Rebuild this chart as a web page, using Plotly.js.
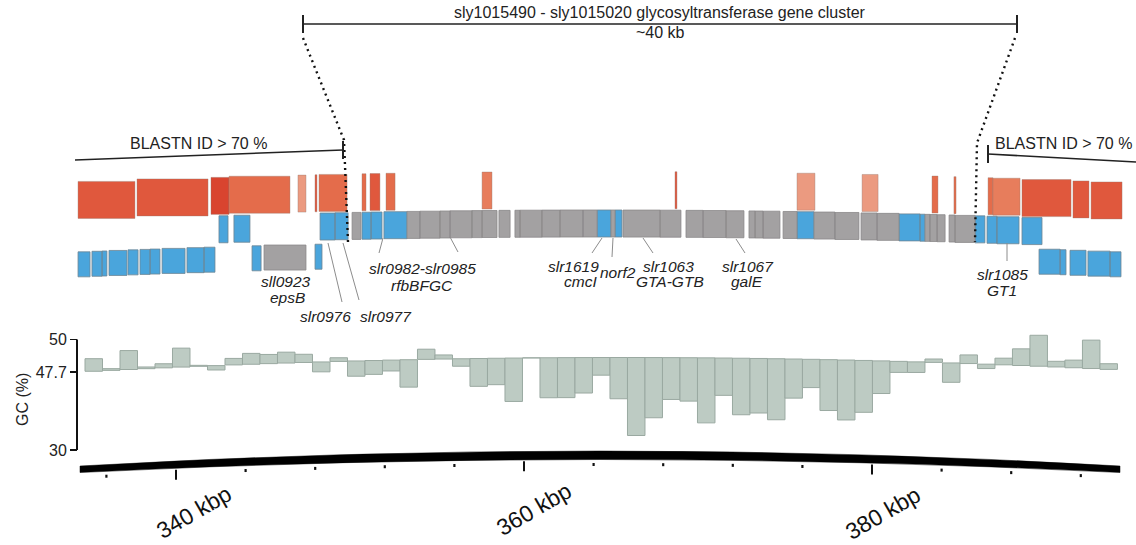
<!DOCTYPE html>
<html><head><meta charset="utf-8">
<script src="https://cdn.plot.ly/plotly-3.0.1.min.js"></script>
<style>html,body{margin:0;padding:0;background:#fff}#chart{width:1136px;height:545px}</style>
</head><body><div id="chart"></div>
<script>
// ================= DATA =================
// BLASTN hit track (identity class)
const blastStart = [334.37, 337.76, 342.01, 343.05, 347.01, 347.99, 348.22, 350.69, 351.15, 352.07, 357.59, 368.68, 375.69, 379.43, 383.45, 384.71, 386.67, 386.95, 388.62, 391.55, 392.59];
const blastEnd   = [337.64, 341.84, 343.05, 346.55, 347.47, 348.10, 349.83, 350.92, 351.72, 352.59, 358.16, 368.79, 376.72, 380.35, 383.79, 384.83, 386.95, 388.51, 391.44, 392.47, 394.37];
const blastClass = ['high','high','top','mid','low','high','mid','mid','high','mid','midlow','high','low','low','mid','mid','mid','midlow','high','high','high'];

// Gene track 1 (upper strand row): b = conserved (blue), g = cluster gene (grey)
const fwdStart = [342.47, 343.33, 348.28, 349.14, 350.12, 350.69, 351.21, 351.95, 353.28, 354.02, 355.17, 355.75, 357.01, 357.59, 358.56, 359.48, 359.77, 361.03, 362.07, 363.39, 364.20, 365.00, 365.23, 365.69, 367.82, 369.31, 370.29, 371.61, 372.93, 373.28, 373.74, 374.89, 375.69, 376.67, 377.87, 379.37, 380.29, 381.55, 382.76, 383.05, 383.33, 383.74, 384.43, 384.77, 385.92, 386.61, 387.18, 388.62];
const fwdEnd   = [342.99, 344.25, 349.14, 349.89, 350.63, 351.21, 351.84, 353.28, 354.02, 355.17, 355.75, 357.01, 357.59, 358.45, 359.20, 359.77, 361.03, 362.07, 363.39, 364.20, 365.00, 365.23, 365.63, 367.82, 369.02, 370.29, 371.61, 372.64, 373.28, 373.74, 374.71, 375.69, 376.67, 377.87, 379.25, 380.29, 381.55, 382.76, 383.05, 383.33, 383.74, 384.20, 384.77, 385.92, 386.49, 387.18, 388.45, 389.77];
const fwdType  = ['b','b','b','b','g','b','b','b','g','g','g','g','g','g','g','g','g','g','g','g','b','g','b','g','g','g','g','g','g','g','g','g','b','g','g','g','g','b','b','g','g','g','g','g','b','b','b','b'];

// Gene track 2 (lower strand row)
const revStart = [334.37, 335.17, 335.75, 336.15, 337.24, 337.93, 338.51, 339.20, 340.63, 341.61, 344.37, 345.06, 347.99, 389.60, 390.81, 391.38, 392.41, 393.68];
const revEnd   = [335.06, 335.75, 336.03, 337.18, 337.82, 338.51, 339.08, 340.52, 341.61, 342.24, 344.89, 347.47, 348.39, 390.81, 391.15, 392.30, 393.68, 394.31];
const revType  = ['b','b','b','b','b','b','b','b','b','b','b','g','b','b','b','b','b','b'];

// GC content (%) in consecutive windows
const gcWindowStart = 334.77;   // kbp
const gcWindowSize  = 1.0057;   // kbp
const gcPercent = [48.59, 47.82, 49.04, 47.82, 47.99, 49.04, 47.77, 47.39, 48.16, 48.47,
                   48.35, 48.47, 48.28, 47.00, 47.96, 46.62, 46.72, 46.93, 45.76, 48.42,
                   47.99, 47.17, 45.73, 45.83, 44.63, 47.70, 44.87, 44.87, 45.19, 46.45,
                   44.78, 42.18, 43.44, 44.74, 44.63, 43.10, 45.06, 43.70, 43.84, 43.38,
                   44.93, 45.70, 44.10, 43.46, 44.03, 45.39, 46.92, 46.95, 47.94, 46.33,
                   48.31, 47.39, 48.17, 48.88, 49.89, 48.10, 48.24, 49.71, 48.10];
const gcMean = 47.7;
const gcTickVals = [42.18, 47.7, 50];
const gcTickText = ['30', '47.7', '50'];

// genome coordinate axis
const majorTickKbp = [340, 360, 380];
const majorTickText = ['340 kbp', '360 kbp', '380 kbp'];
const minorTickKbp = [336, 344, 348, 352, 356, 364, 368, 372, 376, 384, 388, 392];

// ================= LAYOUT HELPERS =================
const W = 1136, H = 545;
const PXK = 17.4;                 // px per kbp
const X0 = 340 - 176 / PXK;       // kbp at left edge
const FONT = "'Liberation Sans', Arial, Helvetica, sans-serif";
const k2px = k => (k - X0) * PXK;
const px = x => x / W;
const py = y => 1 - y / H;
function lift(x, D, c, hw) { const t = (x - c) / hw; return D * Math.max(0, 1 - t * t); }

const blastColor = {top:'#d9442f', high:'#e0583d', mid:'#e46c4b', midlow:'#e77d5c', low:'#eb9a80'};
const typeColor = {b:'#4aa5dc', g:'#a3a1a2'};
const typeLine = {b:'#6f8593', g:'#8a8889'};

const rowA = [182.5, 219.5], rowB = [221, 248], rowC = [252, 277];

const traces = [];
function addRects(starts, ends, cats, row, colorMap, lineMap, lw) {
  const groups = {};
  starts.forEach((s, i) => {
    const e = ends[i], c = cats[i];
    const L = lift(k2px((s + e) / 2), 11, 600, 520);
    const t = row[0] - L, b = row[1] - L;
    (groups[c] = groups[c] || {x: [], y: []});
    groups[c].x.push(s, e, e, s, s, null);
    groups[c].y.push(t, t, b, b, t, null);
  });
  Object.keys(groups).forEach(c => {
    traces.push({type:'scatter', mode:'lines', x:groups[c].x, y:groups[c].y, xaxis:'x', yaxis:'y',
      fill:'toself', fillcolor:colorMap[c], line:{color:lineMap[c], width:lw}, hoverinfo:'skip'});
  });
}
const blastLine = {}; Object.keys(blastColor).forEach(k => blastLine[k] = 'rgba(150,120,110,0.55)');
addRects(blastStart, blastEnd, blastClass, rowA, blastColor, blastLine, 0.7);
addRects(fwdStart, fwdEnd, fwdType, rowB, typeColor, typeLine, 0.8);
addRects(revStart, revEnd, revType, rowC, typeColor, typeLine, 0.8);

// GC bars
const GC_PPU = 14.13; // px per GC unit
const gcLo = gcMean - (450 - 372) / GC_PPU;
const gcHi = gcMean + (372 - 330) / GC_PPU;
const gcX = gcPercent.map((v, i) => gcWindowStart + (i + 0.5) * gcWindowSize);
const gcBase = gcX.map(k => gcMean + lift(k2px(k), 14.5, 620, 540) / GC_PPU);
traces.push({type:'bar', x:gcX, y:gcPercent.map(v => v - gcMean), base:gcBase, width:gcWindowSize,
  xaxis:'x', yaxis:'y2', marker:{color:'#bdcbc3', line:{color:'#9aa9a1', width:1}}, hoverinfo:'skip'});

// ================= SHAPES =================
const shapes = [];
function seg(x0, y0, x1, y1, color, width, dash) {
  shapes.push({type:'line', xref:'paper', yref:'paper', x0:px(x0), y0:py(y0), x1:px(x1), y1:py(y1),
    line:{color:color, width:width, dash:dash || 'solid'}});
}
function pathPx(pts, color, width, dash) {
  const d = pts.map((p, i) => (i ? 'L' : 'M') + px(p[0]) + ',' + py(p[1])).join(' ');
  shapes.push({type:'path', xref:'paper', yref:'paper', path:d, line:{color:color, width:width, dash:dash || 'solid'}});
}
// cluster bracket
seg(303, 24, 1017, 24, '#222', 1.6);
seg(303, 15, 303, 33, '#222', 2);
seg(1017, 15, 1017, 33, '#222', 2);
// dotted zoom lines
pathPx([[303, 38], [344, 140], [348, 242]], '#111', 2.4, '2px,4px');
pathPx([[1015, 38], [977, 143], [975, 242]], '#111', 2.4, '2px,4px');
// BLASTN brackets
seg(75, 160, 343, 150, '#222', 1.6);
seg(343, 141, 343, 159, '#222', 2);
seg(988, 154, 1136, 162, '#222', 1.6);
seg(988, 145, 988, 163, '#222', 2);
// leader lines
const LC = '#8c8c8c';
seg(328, 243, 342, 302, LC, 1);
seg(343, 243, 359, 300, LC, 1);
seg(383, 238, 379, 253, LC, 1);
seg(450, 237, 458, 252, LC, 1);
seg(602, 238, 592, 253, LC, 1);
seg(613, 238, 612, 257, LC, 1);
seg(643, 238, 653, 253, LC, 1);
seg(736, 239, 745, 253, LC, 1);
seg(1007, 243, 1007, 261, LC, 1);
// GC axis line
shapes.push({type:'line', xref:'paper', yref:'y2', x0:77 / W, x1:77 / W, y0:gcTickVals[0], y1:50, line:{color:'#111', width:2}});
// genome arc (thick curved line)
const aX0 = 80, aX1 = 1120, aXc = 600;
const topE = 466, topM = 451, botE = 472.5, botM = 459.5;
const arcPath = 'M' + px(aX0) + ',' + py(topE) + ' Q' + px(aXc) + ',' + py(2 * topM - topE) + ' ' + px(aX1) + ',' + py(topE) +
  ' L' + px(aX1) + ',' + py(botE) + ' Q' + px(aXc) + ',' + py(2 * botM - botE) + ' ' + px(aX0) + ',' + py(botE) + ' Z';
shapes.push({type:'path', xref:'paper', yref:'paper', path:arcPath, fillcolor:'#000', line:{color:'#000', width:0.5}});
const arcBottom = x => botE - (botE - botM) * Math.max(0, 1 - Math.pow((x - aXc) / (aXc - aX0), 2));
majorTickKbp.forEach(k => { const x = k2px(k), yb = arcBottom(x); seg(x, yb + 1.5, x, yb + 11.5, '#111', 2); });
minorTickKbp.forEach(k => { const x = k2px(k), yb = arcBottom(x); seg(x, yb + 3.5, x, yb + 6.5, '#111', 2.2); });

// ================= ANNOTATIONS =================
const annotations = [];
function label(text, x, y, size, opts) {
  annotations.push(Object.assign({text:text, xref:'paper', yref:'paper', x:px(x), y:py(y), xanchor:'center', yanchor:'middle',
    showarrow:false, font:{family:FONT, size:size, color:'#222'}}, opts || {}));
}
label('sly1015490 - sly1015020 glycosyltransferase gene cluster', 660, 13, 16);
label('~40 kb', 660, 33, 16);
label('BLASTN ID &gt; 70 %', 198, 143, 16);
label('BLASTN ID &gt; 70 %', 1063, 143, 16);
const it = t => '<i>' + t + '</i>';
label(it('sll0923'), 285, 281, 15.5); label(it('epsB'), 287, 297, 15.5);
label(it('slr0976'), 325, 316, 15.5); label(it('slr0977'), 386, 316, 15.5);
label(it('slr0982-slr0985'), 422, 268, 15.5); label(it('rfbBFGC'), 422, 285, 15.5);
label(it('slr1619'), 573, 266, 15.5); label(it('cmcI'), 580, 281, 15.5);
label(it('norf2'), 618, 272, 15.5);
label(it('slr1063'), 668, 266, 15.5); label(it('GTA-GTB'), 670, 281, 15.5);
label(it('slr1067'), 748, 266, 15.5); label(it('galE'), 747, 281, 15.5);
label(it('slr1085'), 1002, 274, 15.5); label(it('GT1'), 1002, 290, 15.5);
label('GC (%)', 22, 400, 16, {textangle:-90});
const majorLabelPos = [[194, 512], [534, 509], [883, 513]];
majorTickText.forEach((t, i) => label(t, majorLabelPos[i][0], majorLabelPos[i][1], 23, {textangle:-30, font:{family:FONT, size:23, color:'#111'}}));

const layout = {
  width:W, height:H, margin:{l:0, r:0, t:0, b:0}, paper_bgcolor:'#fff', plot_bgcolor:'rgba(0,0,0,0)',
  showlegend:false, bargap:0, font:{family:FONT},
  xaxis:{range:[X0, X0 + W / PXK], visible:false, fixedrange:true},
  yaxis:{range:[H, 0], visible:false, domain:[0, 1], fixedrange:true},
  yaxis2:{domain:[1 - 450 / H, 1 - 330 / H], range:[gcLo, gcHi], anchor:'free', position:77 / W,
    tickvals:gcTickVals, ticktext:gcTickText, ticks:'outside', ticklen:7, tickwidth:1.6, tickcolor:'#111',
    showgrid:false, zeroline:false, showline:false, tickfont:{family:FONT, size:16, color:'#222'}, fixedrange:true},
  shapes:shapes, annotations:annotations
};
Plotly.newPlot('chart', traces, layout, {staticPlot:true, displayModeBar:false});
</script>
</body></html>
